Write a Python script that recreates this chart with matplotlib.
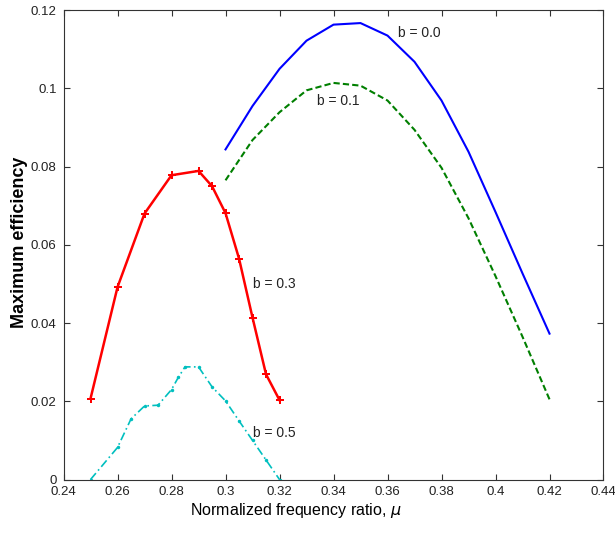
import numpy as np
import matplotlib.pyplot as plt

plt.rcParams['font.family'] = ['Liberation Sans', 'DejaVu Sans']

# b = 0.0 (blue solid)
mu_b0 = [0.30, 0.31, 0.32, 0.33, 0.34, 0.35, 0.36, 0.37, 0.38, 0.39, 0.40, 0.41, 0.42]
eff_b0 = [0.0844, 0.0955, 0.1050, 0.1122, 0.1163, 0.1167, 0.1135, 0.1068, 0.0969, 0.0838, 0.0684, 0.0527, 0.0373]

# b = 0.1 (green dashed)
mu_b1 = [0.30, 0.31, 0.32, 0.33, 0.34, 0.35, 0.36, 0.37, 0.38, 0.39, 0.40, 0.41, 0.42]
eff_b1 = [0.0765, 0.0868, 0.0939, 0.0995, 0.1014, 0.1007, 0.0969, 0.0894, 0.0797, 0.0668, 0.0520, 0.0365, 0.0205]

# b = 0.3 (red, + markers)
mu_b3 = [0.25, 0.26, 0.27, 0.28, 0.29, 0.295, 0.30, 0.305, 0.31, 0.315, 0.32]
eff_b3 = [0.0207, 0.0492, 0.0680, 0.0778, 0.0789, 0.0750, 0.0681, 0.0565, 0.0414, 0.0269, 0.0203]

# b = 0.5 (cyan dash-dot, dots)
mu_b5 = [0.25, 0.26, 0.265, 0.27, 0.275, 0.28, 0.2825, 0.285, 0.29, 0.295, 0.30, 0.305, 0.31, 0.315, 0.32]
eff_b5 = [0.0, 0.0082, 0.0155, 0.0188, 0.0190, 0.0230, 0.0261, 0.0288, 0.0288, 0.0237, 0.0201, 0.0150, 0.0100, 0.0050, 0.0]

xticks = [0.24, 0.26, 0.28, 0.30, 0.32, 0.34, 0.36, 0.38, 0.40, 0.42, 0.44]
xtick_labels = ['0.24', '0.26', '0.28', '0.3', '0.32', '0.34', '0.36', '0.38', '0.4', '0.42', '0.44']
yticks = [0, 0.02, 0.04, 0.06, 0.08, 0.10, 0.12]
ytick_labels = ['0', '0.02', '0.04', '0.06', '0.08', '0.1', '0.12']

fig = plt.figure(figsize=(6.15, 5.35), dpi=100)
ax = fig.add_axes([0.1033, 0.1037, 0.878, 0.8773])

ax.plot(mu_b0, eff_b0, color='#0000ff', lw=1.5)
ax.plot(mu_b1, eff_b1, color='#007f00', lw=1.5, ls=(0, (3, 1.5)))
ax.plot(mu_b3, eff_b3, color='#ff0000', lw=1.8, marker='P', ms=6, mew=0)
ax.plot(mu_b5, eff_b5, color='#00bfbf', lw=1.2, ls=(0, (5, 2, 1, 2)), marker='o', ms=2.5, mew=0)

lab = dict(fontsize=10, va='center', color='#222222')
ax.text(0.3639, 0.1142, 'b = 0.0', **lab)
ax.text(0.3339, 0.0969, 'b = 0.1', **lab)
ax.text(0.3103, 0.0499, 'b = 0.3', **lab)
ax.text(0.3103, 0.0120, 'b = 0.5', **lab)

ax.set_xlim(0.24, 0.44)
ax.set_ylim(0, 0.12)
ax.set_xticks(xticks)
ax.set_xticklabels(xtick_labels)
ax.set_yticks(yticks)
ax.set_yticklabels(ytick_labels)
ax.tick_params(direction='in', top=True, right=True, length=4, width=0.8,
               labelsize=9.5, colors='#333333', labelcolor='#222222', pad=5)
for sp in ax.spines.values():
    sp.set_color('#333333')
    sp.set_linewidth(0.8)

ax.set_xlabel(r'Normalized frequency ratio, $\mu$', fontsize=11.5)
ax.xaxis.set_label_coords(0.43, -0.046)
ax.set_ylabel('Maximum efficiency', fontsize=13, fontweight='bold')
ax.yaxis.set_label_coords(-0.066, 0.505)

fig.savefig('out.png', dpi=100)
